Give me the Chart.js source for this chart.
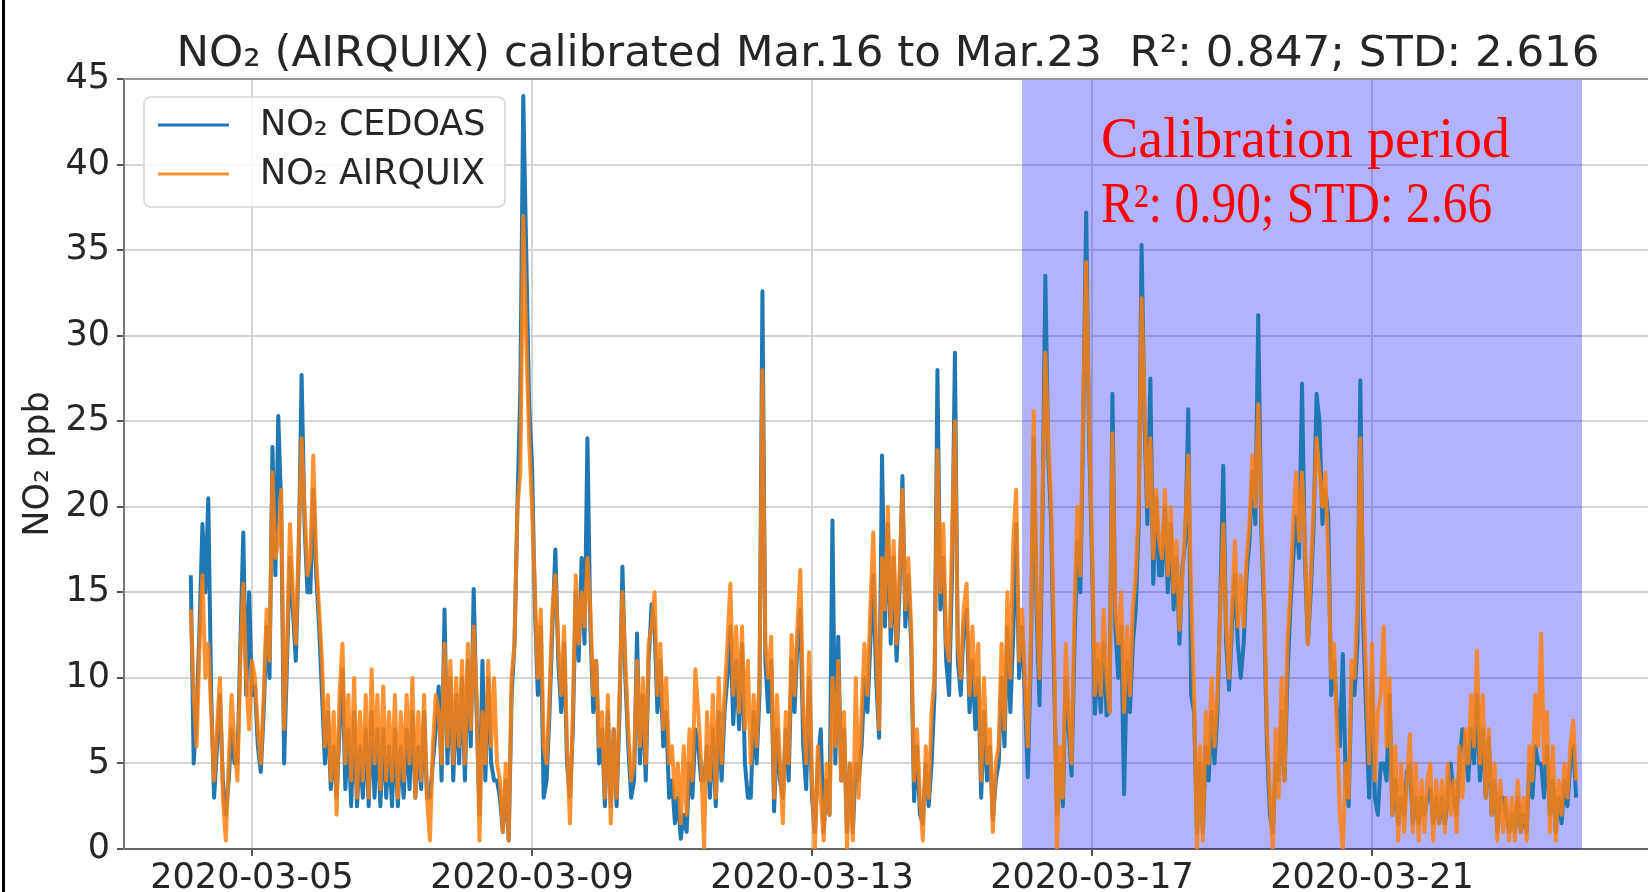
<!DOCTYPE html>
<html>
<head>
<meta charset="utf-8">
<script src="https://cdn.jsdelivr.net/npm/chart.js@4.4.1/dist/chart.umd.min.js"></script>
<style>
  html, body { margin: 0; padding: 0; background: #fff; }
  #wrap { position: relative; width: 1648px; height: 892px; }
</style>
</head>
<body>
<div id="wrap"><canvas id="chart" width="1648" height="892"></canvas></div>
<script>
// x values are days of March 2020; hourly readings, first one Mar 4 03:00
const firstDay = 4;
const firstHour = 3;
const stepHours = 1;

const tickDays = [5, 9, 13, 17, 21];
const tickLabels = ["2020-03-05", "2020-03-09", "2020-03-13", "2020-03-17", "2020-03-21"];
const yTicks = [0, 5, 10, 15, 20, 25, 30, 35, 40, 45];

const calibStart = 16;
const calibEnd = 24;

const chartTitle = "NO\u2082 (AIRQUIX) calibrated Mar.16 to Mar.23  R\u00b2: 0.847; STD: 2.616";
const seriesNames = ["NO\u2082 CEDOAS", "NO\u2082 AIRQUIX"];

// NO2 CEDOAS (ppb), one row per day
const cedoas = [
  16, 5, 8, 13, 19, 15, 20.5, 9, 3, 6, 9, 4, 2, 4, 7, 5, 5, 12, 18.5, 9, 15,                      // Mar 4 (from 03h)
  9, 9.5, 6, 4.5, 8, 13, 10, 23.5, 16, 25.3, 20, 5, 11, 17, 14, 11, 17, 27.7, 19, 15, 15, 21, 16, 13, // Mar 5
  9, 5, 8, 3.5, 6, 3, 7, 10.5, 3.5, 7, 2.5, 8, 2.5, 6, 3, 7, 2.5, 8, 3, 7, 2.5, 7, 3, 6,            // Mar 6
  2.5, 7, 2.5, 6, 3, 7, 3.5, 8, 3, 6, 3.5, 8, 3, 3, 5, 7, 9.5, 4, 14, 5, 10, 4, 9, 5,               // Mar 7
  10, 4, 11, 6, 15.2, 8, 2, 11, 4, 10, 5, 4, 4, 3, 1, 4, 0.5, 9, 12, 20, 27, 44, 35, 26,            // Mar 8
  22.5, 14, 9, 13, 3, 4, 8, 13, 17.5, 11, 8, 12, 5, 3, 7, 15, 11, 17, 12, 24, 13, 8, 11, 5,         // Mar 9
  7, 2.5, 8, 2.5, 7, 2.5, 8, 16.5, 10, 6, 3, 4, 12.6, 5, 9, 4, 11, 14.3, 13, 8, 11, 6, 8, 3,        // Mar 10
  4, 1.5, 3, 0.6, 2, 1, 5, 3, 7, 6, 4, 4, 6, 3, 7, 2.5, 8, 4, 8, 10, 13, 7.3, 11, 7,               // Mar 11
  12, 5, 3, 3, 8, 5, 9, 32.6, 11, 8, 11, 2.2, 7, 4, 3, 7, 4, 11, 8, 12, 14, 6, 3.5, 10,             // Mar 12
  3, 1, 5, 7, 1, 4, 2, 19.2, 5, 12.4, 4, 7, 1, 5, 1, 5, 4, 6, 10, 8, 12, 16, 10, 6.5,              // Mar 13
  23, 13, 19, 12, 17, 11, 15, 21.8, 13, 16, 12, 2.8, 6, 2, 1.5, 5, 2.5, 5, 9, 28, 14, 17, 11, 9,    // Mar 14
  16, 29, 11, 9, 13, 14, 8, 11, 7, 10, 3, 8, 4, 6, 1.7, 4, 5, 10, 6, 13, 8, 12.5, 19, 10,          // Mar 15
  13, 9, 4.2, 11, 24, 14, 8.4, 19, 33.5, 23, 19, 10, 2, 5, 2.5, 10, 7, 4.3, 12, 18, 15, 25, 37.2, 24, // Mar 16
  17, 7.9, 11, 8, 12, 7.8, 8, 26.6, 13, 10, 13, 3.2, 11, 8, 12, 14, 19, 35.3, 25, 19, 27.5, 15.5, 20.5, 16, // Mar 17
  16, 20, 15, 19, 14, 17, 12, 16.5, 18, 25.7, 9, 8, 1, 5, 1, 6, 4, 8, 5, 8, 14.6, 22.4, 12, 9.3,    // Mar 18
  13, 16, 12, 10, 12, 16, 18, 22, 19, 31.2, 19, 14, 6, 2, 1, 5, 4, 8, 4, 10, 14, 17, 19.5, 17,      // Mar 19
  27.2, 17, 12, 15, 19, 26.6, 25, 19, 21, 19.5, 9, 11, 8, 6, 11.4, 4, 2.5, 10, 9, 12, 27.4, 13, 8, 3, // Mar 20
  10, 3, 2, 5, 5, 4, 9, 2, 4, 1.5, 3, 2, 4.5, 5, 1.5, 3, 1.5, 3, 2, 3, 3.5, 1.5, 3, 1.5,            // Mar 21
  3, 1.5, 3, 5, 3, 2, 5, 7, 6, 4, 7, 5, 9, 4, 7, 3, 6.5, 2, 4, 1, 3, 3, 2, 1,                      // Mar 22
  2, 1, 3, 1, 2, 1, 5, 3, 6, 5, 5, 3, 6, 2, 4, 1, 3, 1.5, 4, 2.5, 5, 6, 3                           // Mar 23 (to 22h)
];

// NO2 AIRQUIX, calibrated (ppb), one row per day
const airquix = [
  14, 9, 6, 12, 16, 10, 12, 8, 4, 7, 10, 3, 0.5, 5, 9, 6, 4, 11, 15.5, 10, 7,                      // Mar 4 (from 03h)
  11, 10, 7, 5, 9, 14, 11, 22, 17, 18, 21, 7, 12, 19, 15, 12, 18, 24, 20, 16, 17, 23, 17, 14,       // Mar 5
  11, 6, 9, 4, 8, 2, 9, 12, 5, 9, 4, 10, 3, 8, 4, 9, 3, 10.5, 5, 9, 3.5, 9.5, 4, 8,                 // Mar 6
  4, 9, 3, 8, 4, 9, 5, 10, 3, 8, 4, 9, 3, 0.5, 6, 9, 8, 5, 12, 6, 11, 5, 10, 6,                     // Mar 7
  11, 5, 12, 7, 13, 9, 0.5, 8, 5, 11, 6, 10, 5, 4, 1, 5, 0.5, 10, 12, 20, 22, 37, 30, 24,           // Mar 8
  20, 15, 10, 14, 6, 5, 9, 14, 16, 12, 9, 13, 6, 1.5, 8, 16, 12, 15, 13, 17, 14, 9, 11, 6,          // Mar 9
  8, 3, 9, 1.5, 7, 3, 9, 15, 11, 7, 4, 5, 11, 6, 10, 5, 12, 13, 15, 9, 12, 7, 10, 5,                // Mar 10
  6, 3, 5, 1.5, 6, 2, 7, 4, 10.5, 8, 5, 0, 8, 4, 9, 3, 10, 5, 9, 12, 15.5, 9, 13, 8,                // Mar 11
  13, 7, 11, 5, 9, 6, 10, 28, 12, 10, 12.4, 3, 9, 5, 1.5, 8, 5, 12.5, 9, 13, 16.3, 8, 5, 11.5,      // Mar 12
  4, 0, 6, 3, 0.5, 5, 2, 10, 6, 11, 4, 8, 0, 5, 0.5, 10, 3, 8, 12, 9, 14, 18.5, 12, 7,              // Mar 13
  17, 14, 20, 13, 18, 12, 16, 21, 14, 17, 13, 4, 7, 3, 0.5, 6, 3, 8, 10, 23.3, 15, 19, 12, 11,      // Mar 14
  18, 25, 12, 10, 14, 15.5, 9, 13, 9, 12, 4, 10, 5, 7, 1, 5, 6, 12, 7, 15, 10, 18, 21, 11,          // Mar 15
  14, 10, 6, 12, 25.6, 15, 10, 20, 29, 24, 20, 12, 0, 6, 3, 12, 8, 5, 14, 20, 16, 26, 34.3, 25,     // Mar 16
  18, 9, 12, 9, 14, 10, 8, 24.3, 14, 12, 15, 8, 13, 9, 14, 16, 20, 32.2, 26, 20, 24, 17, 21, 18,    // Mar 17
  17, 21, 16, 20, 15, 18, 12.8, 16, 19, 23, 15, 9, 0, 6, 0.5, 8, 5, 10, 6, 9, 14, 19, 13, 10,       // Mar 18
  14, 18, 13, 16, 13, 17, 19, 23, 20, 26, 20, 15, 7, 3, 0, 7, 3, 10, 4, 12, 15, 19, 22, 18,         // Mar 19
  22, 18, 12, 16, 20, 24, 22, 20, 22, 17, 10, 12, 7, 2, 0, 5, 3, 11, 10, 14, 24, 15, 10, 5,         // Mar 20
  12, 4, 8, 9, 13, 6, 10, 2, 6, 0.5, 5, 1, 4, 6.7, 1, 5, 0.5, 4, 1, 4, 5, 0.5, 4, 1.5,              // Mar 21
  4, 1, 5, 2, 4, 1, 6, 3, 7, 5, 9, 6, 11.6, 5, 9, 3, 7, 2, 5, 0.5, 4, 1, 3, 0.5,                    // Mar 22
  3, 0.5, 4, 1, 3, 0.5, 6, 4, 9, 6, 12.6, 5, 8, 1, 6, 0.5, 4, 2, 5, 3, 6, 7.5, 4                    // Mar 23 (to 22h)
];

const font = "DejaVu Sans";
const textColor = "#262626";

function toPoints(values) {
  return values.map((v, i) => ({ x: firstDay + (firstHour + i * stepHours) / 24, y: v }));
}

const calibBox = {
  id: "calibBox",
  beforeDatasetsDraw(chart) {
    const { ctx, chartArea, scales } = chart;
    const x0 = scales.x.getPixelForValue(calibStart);
    const x1 = scales.x.getPixelForValue(calibEnd);
    ctx.save();
    ctx.fillStyle = "rgba(0,0,255,0.3)";
    ctx.fillRect(x0, chartArea.top, x1 - x0, chartArea.bottom - chartArea.top);
    ctx.restore();
  },
  afterDatasetsDraw(chart) {
    const { ctx, scales } = chart;
    const x = scales.x.getPixelForValue(calibStart) + 79;
    ctx.save();
    ctx.fillStyle = "#ff0000";
    ctx.font = "56px 'Liberation Serif'";
    ctx.textBaseline = "alphabetic";
    ctx.fillText("Calibration period", x, 157);
    ctx.fillText("R\u00b2: 0.90; STD: 2.66", x, 222, 391);
    ctx.restore();
  }
};

const frame = {
  id: "frame",
  afterDraw(chart) {
    const { ctx, chartArea } = chart;
    ctx.save();
    // top spine
    ctx.strokeStyle = "#999";
    ctx.lineWidth = 2;
    ctx.beginPath();
    ctx.moveTo(chartArea.left, chartArea.top);
    ctx.lineTo(chartArea.right, chartArea.top);
    ctx.stroke();

    // title (the axes centre sits to the right of the figure centre)
    ctx.fillStyle = textColor;
    ctx.font = "43.5px '" + font + "'";
    ctx.textAlign = "center";
    ctx.textBaseline = "alphabetic";
    ctx.fillText(chartTitle, 888, 66);
    ctx.textAlign = "left";

    // legend box
    const bx = 144, by = 97, bw = 361, bh = 110, r = 7;
    ctx.fillStyle = "rgba(255,255,255,0.8)";
    ctx.strokeStyle = "#d6d6d6";
    ctx.lineWidth = 1.5;
    ctx.beginPath();
    ctx.roundRect(bx, by, bw, bh, r);
    ctx.fill();
    ctx.stroke();
    ctx.font = "35px '" + font + "'";
    ctx.textBaseline = "middle";
    chart.data.datasets.forEach((ds, i) => {
      const y = by + 28 + i * 49;
      ctx.strokeStyle = ds.borderColor;
      ctx.lineWidth = 3;
      ctx.beginPath();
      ctx.moveTo(bx + 14, y);
      ctx.lineTo(bx + 85, y);
      ctx.stroke();
      ctx.fillStyle = textColor;
      ctx.fillText(ds.label, bx + 116, y + 1);
    });

    // left edge of the figure
    ctx.fillStyle = "#000";
    ctx.fillRect(2, 0, 3, chart.height);
    ctx.restore();
  }
};

new Chart(document.getElementById("chart"), {
  type: "line",
  data: {
    datasets: [
      {
        label: seriesNames[0],
        data: toPoints(cedoas),
        borderColor: "#1f77b4",
        borderWidth: 4,
        order: 2
      },
      {
        label: seriesNames[1],
        data: toPoints(airquix),
        borderColor: "rgba(255,127,14,0.85)",
        borderWidth: 4,
        order: 1
      }
    ]
  },
  options: {
    responsive: false,
    devicePixelRatio: 1,
    animation: false,
    layout: { padding: { left: 0, right: 0, top: 79, bottom: 0 } },
    elements: {
      point: { radius: 0 },
      line: { tension: 0, borderJoinStyle: "round", fill: false }
    },
    plugins: {
      legend: { display: false },
      tooltip: { enabled: false },
      title: { display: false }
    },
    scales: {
      x: {
        type: "linear",
        min: 3.171,
        max: 24.943,
        afterBuildTicks: scale => {
          scale.ticks = tickDays.map(v => ({ value: v }));
        },
        afterFit: scale => { scale.height = 43; },
        ticks: {
          autoSkip: false,
          maxRotation: 0,
          padding: 2,
          color: textColor,
          font: { family: font, size: 35 },
          callback: (value) => tickLabels[tickDays.indexOf(value)]
        },
        grid: { color: "#d4d4d4", lineWidth: 2, tickLength: 7, tickColor: "#555" },
        border: { color: "#666", width: 2 }
      },
      y: {
        min: 0,
        max: 45,
        afterBuildTicks: scale => {
          scale.ticks = yTicks.map(v => ({ value: v }));
        },
        afterFit: scale => { scale.width = 124; },
        ticks: {
          padding: 7,
          color: textColor,
          font: { family: font, size: 35 }
        },
        grid: { color: "#d4d4d4", lineWidth: 2, tickLength: 7, tickColor: "#555" },
        border: { color: "#777", width: 2 },
        title: {
          display: true,
          text: "NO\u2082 ppb",
          color: textColor,
          font: { family: font, size: 35 },
          padding: { top: 18, bottom: 0 }
        }
      }
    }
  },
  plugins: [calibBox, frame]
});
</script>
</body>
</html>
